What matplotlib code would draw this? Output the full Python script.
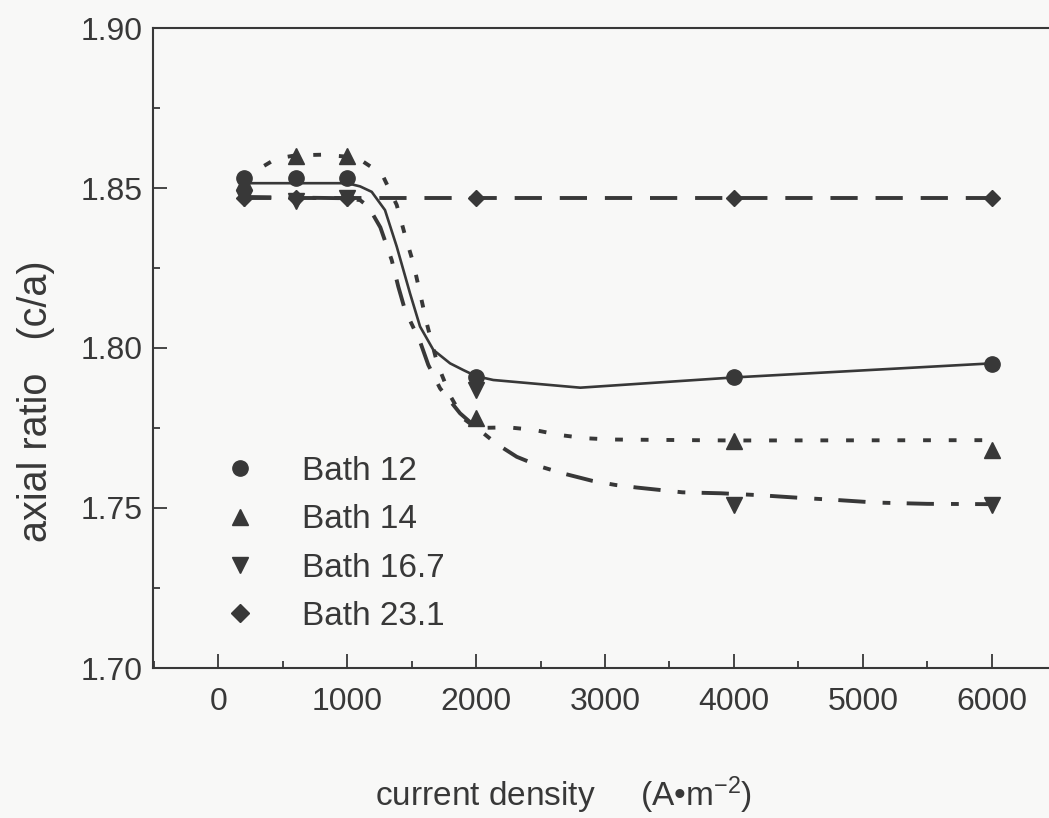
import matplotlib
matplotlib.use('Agg')
import matplotlib.pyplot as plt
from matplotlib.lines import Line2D
from matplotlib.ticker import MultipleLocator

plt.rcParams['font.family'] = ['Liberation Sans', 'DejaVu Sans']
plt.rcParams['mathtext.fontset'] = 'custom'
plt.rcParams['mathtext.rm'] = 'Liberation Sans'
plt.rcParams['mathtext.default'] = 'regular'

# measured points (current density in A/m2, axial ratio c/a)
x_pts = [200, 600, 1000, 2000, 4000, 6000]
bath12_y = [1.853, 1.853, 1.853, 1.791, 1.791, 1.795]
bath14_y = [1.852, 1.860, 1.860, 1.778, 1.771, 1.768]
bath167_y = [1.847, 1.846, 1.847, 1.787, 1.751, 1.751]
bath231_y = [1.847, 1.847, 1.847, 1.847, 1.847, 1.847]

# smooth guide curves
fit12_x = [200, 1000, 1100, 1190, 1293, 1384, 1487, 1565, 1668, 1798, 1901, 2000, 2133, 2808, 4000, 6000]
fit12_y = [1.8515, 1.8515, 1.8505, 1.8488, 1.8431, 1.8317, 1.8171, 1.8067, 1.7994, 1.7952, 1.7931,
           1.7912, 1.7900, 1.7876, 1.7908, 1.7952]

fit14_x = [200, 300, 450, 600, 800, 1000, 1125, 1200, 1280, 1384, 1448, 1513, 1565, 1617, 1700,
           1800, 1900, 2000, 2250, 2450, 2650, 2850, 3050, 4000, 6000]
fit14_y = [1.852, 1.8556, 1.8592, 1.8602, 1.8604, 1.8598, 1.8582, 1.8562, 1.8535, 1.8447, 1.8353,
           1.8265, 1.8171, 1.8077, 1.7950, 1.7850, 1.7780, 1.7750, 1.7752, 1.7744, 1.7728, 1.7718,
           1.7714, 1.7711, 1.7712]

fit167_x = [200, 600, 1000, 1100, 1164, 1257, 1345, 1396, 1448, 1565, 1629, 1720, 1875, 2000, 2160,
            2315, 2510, 2675, 2900, 3080, 3245, 3600, 3900, 4200, 4500, 4800, 5100, 5500, 6000]
fit167_y = [1.8472, 1.8470, 1.8468, 1.8462, 1.8442, 1.8377, 1.8275, 1.8192, 1.8119, 1.8020, 1.7947,
            1.7874, 1.7796, 1.7752, 1.7700, 1.7660, 1.7628, 1.7608, 1.7585, 1.7572, 1.7564, 1.7549,
            1.7546, 1.7540, 1.7532, 1.7525, 1.7517, 1.7513, 1.7512]

labels = ['Bath 12', 'Bath 14', 'Bath 16.7', 'Bath 23.1']

ink = '#383838'
bg = '#f8f8f7'

fig = plt.figure(figsize=(10.49, 8.18), dpi=100, facecolor=bg)
ax = fig.add_axes([152.7 / 1049, 1 - 668 / 818, 1 - 152.7 / 1049, 640 / 818])
ax.set_facecolor(bg)

# guide curves
ax.plot(fit12_x, fit12_y, '-', color=ink, lw=1.9, zorder=2)
ax.plot(fit14_x, fit14_y, color=ink, lw=2.8, dashes=(2.0, 4.6), zorder=2)
ax.plot(fit167_x, fit167_y, color=ink, lw=2.8, dashes=(7.0, 4.4, 2.0, 4.2), zorder=2)
ax.plot(x_pts, bath231_y, color=ink, lw=2.8, dashes=(7.0, 4.6), zorder=2)

# markers
ms = dict(color=ink, linestyle='None', zorder=3)
ax.plot(x_pts, bath231_y, marker='D', markersize=8.5, **ms)
ax.plot(x_pts, bath167_y, marker='v', markersize=11, **ms)
ax.plot(x_pts, bath14_y, marker='^', markersize=11, **ms)
ax.plot(x_pts, bath12_y, marker='o', markersize=11, **ms)

ax.set_xlim(-509, 6444)
ax.set_ylim(1.70, 1.90)
ax.xaxis.set_major_locator(MultipleLocator(1000))
ax.xaxis.set_minor_locator(MultipleLocator(500))
ax.yaxis.set_major_locator(MultipleLocator(0.05))
ax.yaxis.set_minor_locator(MultipleLocator(0.025))
ax.yaxis.set_major_formatter(plt.FuncFormatter(lambda v, p: f'{v:.2f}'))

ax.tick_params(which='both', direction='in', colors=ink, width=1.3, labelsize=23)
ax.tick_params(which='major', length=10)
ax.tick_params(which='minor', length=5)
ax.tick_params(axis='x', pad=14)
ax.tick_params(axis='y', pad=7)
for s in ['left', 'top', 'bottom']:
    ax.spines[s].set_color(ink)
    ax.spines[s].set_linewidth(1.5)
ax.spines['right'].set_visible(False)

handles = [Line2D([], [], color=ink, linestyle='None', marker='o', markersize=11),
           Line2D([], [], color=ink, linestyle='None', marker='^', markersize=11),
           Line2D([], [], color=ink, linestyle='None', marker='v', markersize=11),
           Line2D([], [], color=ink, linestyle='None', marker='D', markersize=9)]
leg = ax.legend(handles, labels, loc='upper left', frameon=False, fontsize=24,
                handlelength=1.0, handletextpad=1.36, labelspacing=0.52, borderpad=0,
                borderaxespad=0, bbox_to_anchor=(223.3 / 1049, 1 - 456 / 818),
                bbox_transform=fig.transFigure)
for t in leg.get_texts():
    t.set_color(ink)

fig.text(564 / 1049, 1 - 795 / 818, 'current density     (A•m$^{-2}$)', ha='center', va='center',
         fontsize=24, color=ink)
fig.text(36 / 1049, 1 - 401 / 818, 'axial ratio   (c/a)', ha='center', va='center', rotation=90,
         fontsize=28.5, color=ink)

fig.savefig('out.png', dpi=100, facecolor=bg)
